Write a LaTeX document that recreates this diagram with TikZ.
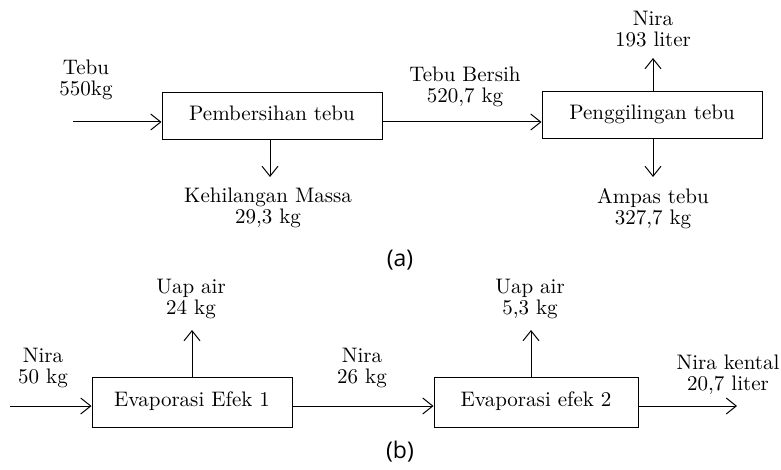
\documentclass[tikz,border=0pt]{standalone}
\usepackage{fontspec}
\newfontfamily\capfont{Open Sans}
\usetikzlibrary{arrows.meta}
\begin{document}
\begin{tikzpicture}[
  x=0.5pt, y=-0.5pt,
  every path/.style={line width=0.5pt},
  proc/.style={draw, inner sep=0pt, minimum height=23.5pt, text depth=3pt, font=\fontsize{10.5}{10.5}\selectfont},
  lbl/.style={align=center, inner sep=0pt, font=\fontsize{10.5}{10.5}\selectfont},
  sublbl/.style={inner sep=0pt, font=\capfont\fontsize{11.5}{12}\selectfont},
  flow/.style={draw, -{Straight Barb[length=5pt, width=8pt]}}
]
\useasboundingbox (0,0) rectangle (781,470);

% (a) pemerahan
\node[proc, minimum width=110pt] (bersihkan) at (272,116.5) {Pembersihan tebu};
\node[proc, minimum width=110pt] (giling) at (652,115.5) {Penggilingan tebu};

\node[lbl] (tebu) at (86,80) {Tebu\\550kg};
\node[lbl] (hilang) at (268,208) {Kehilangan Massa\\29,3 kg};
\node[lbl] (tebubersih) at (465,87) {Tebu Bersih\\520,7 kg};
\node[lbl] (nira) at (653,29.5) {Nira\\193 liter};
\node[lbl] (ampas) at (653,208.5) {Ampas tebu\\327,7 kg};
\node[sublbl] (capa) at (400,260) {(a)};

\coordinate (tebuin) at (73,122);
\coordinate (hilangout) at (270,177);
\coordinate (niraout) at (653,58);
\coordinate (ampasout) at (653,177);

\draw[flow] (tebuin) -- (tebuin -| bersihkan.west);
\draw[flow] (bersihkan.east |- tebuin) -- (giling.west |- tebuin);
\draw[flow] (bersihkan.south -| hilangout) -- (hilangout);
\draw[flow] (giling.north -| niraout) -- (niraout);
\draw[flow] (giling.south -| ampasout) -- (ampasout);

% (b) evaporasi
\node[proc, minimum width=100pt, minimum height=25pt] (efek1) at (192,402) {Evaporasi Efek 1};
\node[proc, minimum width=102pt, minimum height=25pt] (efek2) at (536,402) {Evaporasi efek 2};

\node[lbl] (nirain) at (43,367.5) {Nira\\50 kg};
\node[lbl] (uap1) at (191,298.5) {Uap air\\24 kg};
\node[lbl] (nira26) at (362,367.5) {Nira\\26 kg};
\node[lbl] (uap2) at (530,298.5) {Uap air\\5,3 kg};
\node[lbl] (kental) at (728,374.5) {Nira kental\\20,7 liter};
\node[sublbl] (capb) at (400,452) {(b)};

\coordinate (evin) at (10,406);
\coordinate (uap1out) at (192,330);
\coordinate (uap2out) at (531,330);
\coordinate (kentalout) at (737,406);

\draw[flow] (evin) -- (evin -| efek1.west);
\draw[flow] (efek1.east |- evin) -- (efek2.west |- evin);
\draw[flow] (efek1.north -| uap1out) -- (uap1out);
\draw[flow] (efek2.north -| uap2out) -- (uap2out);
\draw[flow] (efek2.east |- kentalout) -- (kentalout);

\end{tikzpicture}
\end{document}
